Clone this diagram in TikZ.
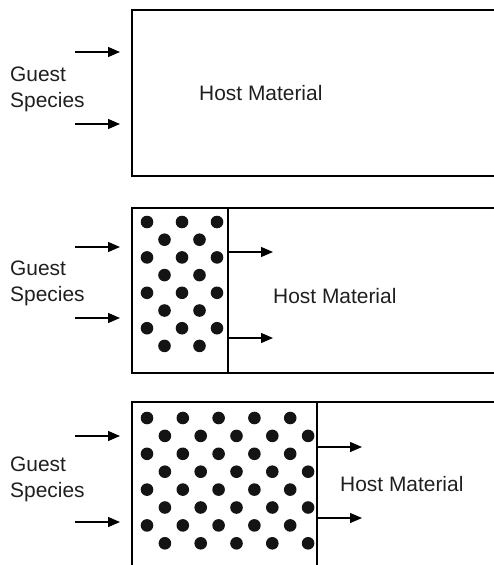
\documentclass[tikz,border=0pt]{standalone}
\usepackage{fontspec}
\setmainfont{Liberation Sans}
\usetikzlibrary{arrows.meta}
\begin{document}
\begin{tikzpicture}[x=1bp,y=-1bp,
  boxline/.style={line width=1.8bp},
  flow/.style={line width=1.3bp,-{Triangle[length=12bp,width=10bp]}},
  lbl/.style={font=\fontsize{21}{26}\selectfont,inner sep=0pt,anchor=west,align=left,text=black!88},
  dot/.style={fill=black!92}]
\useasboundingbox (0,0) rectangle (494,565);
\begin{scope}
\clip (0,0) rectangle (494,565);
% panel 1
\draw[boxline] (132,10) rectangle (520,176);
\node[lbl] (g1) at (10,89) {Guest\\Species};
\node[lbl] (h1) at (199,93) {Host Material};
\coordinate (a1s) at (75,52); \coordinate (a1e) at (120,52);
\coordinate (b1s) at (75,124); \coordinate (b1e) at (120,124);
\draw[flow] (a1s) -- (a1e);
\draw[flow] (b1s) -- (b1e);
% panel 2
\draw[boxline] (132,208) rectangle (520,373);
\draw[boxline] (228,208) -- (228,373);
\node[lbl] (g2) at (10,283) {Guest\\Species};
\node[lbl] (h2) at (273,296) {Host Material};
\coordinate (a2s) at (75,247); \coordinate (a2e) at (120,247);
\coordinate (b2s) at (75,318); \coordinate (b2e) at (120,318);
\draw[flow] (a2s) -- (a2e);
\draw[flow] (b2s) -- (b2e);
\coordinate (c2s) at (228,252); \coordinate (c2e) at (273,252);
\coordinate (d2s) at (228,338); \coordinate (d2e) at (273,338);
\draw[flow] (c2s) -- (c2e);
\draw[flow] (d2s) -- (d2e);
\foreach \r in {0,...,7}{
  \pgfmathtruncatemacro{\rp}{mod(\r,2)}
  \ifnum\rp=0
    \foreach \c in {0,2,4}{\fill[dot] (147+17.5*\c,222+17.7*\r) circle (6.3);}
  \else
    \foreach \c in {1,3}{\fill[dot] (147+17.5*\c,222+17.7*\r) circle (6.3);}
  \fi
}
% panel 3
\draw[boxline] (132,402) rectangle (520,600);
\draw[boxline] (317,402) -- (317,600);
\node[lbl] (g3) at (10,479) {Guest\\Species};
\node[lbl] (h3) at (340,484) {Host Material};
\coordinate (a3s) at (75,436); \coordinate (a3e) at (120,436);
\coordinate (b3s) at (75,522); \coordinate (b3e) at (120,522);
\draw[flow] (a3s) -- (a3e);
\draw[flow] (b3s) -- (b3e);
\coordinate (c3s) at (317,447); \coordinate (c3e) at (362,447);
\coordinate (d3s) at (317,518); \coordinate (d3e) at (362,518);
\draw[flow] (c3s) -- (c3e);
\draw[flow] (d3s) -- (d3e);
\foreach \r in {0,...,7}{
  \pgfmathtruncatemacro{\rp}{mod(\r,2)}
  \ifnum\rp=0
    \foreach \c in {0,2,4,6,8}{\fill[dot] (147+17.9*\c,418+17.9*\r) circle (6.3);}
  \else
    \foreach \c in {1,3,5,7,9}{\fill[dot] (147+17.9*\c,418+17.9*\r) circle (6.3);}
  \fi
}
\end{scope}
\end{tikzpicture}
\end{document}
